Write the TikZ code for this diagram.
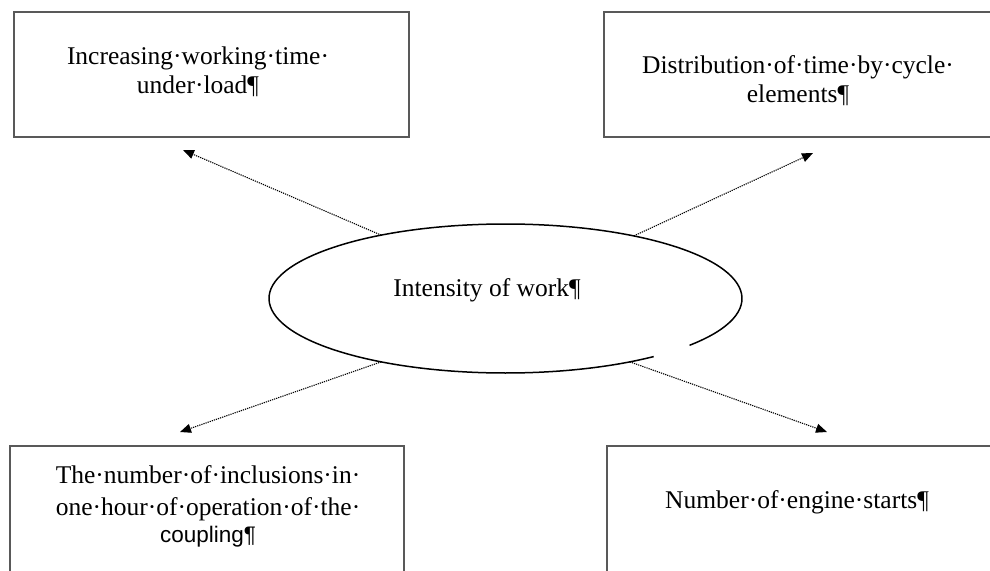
\documentclass[tikz,border=0pt]{standalone}
\usepackage{fontspec}
\setmainfont{Liberation Serif}
\newfontfamily\sansf{Liberation Sans}
\usetikzlibrary{arrows.meta,shapes.geometric}
\begin{document}
\begin{tikzpicture}[x=1pt,y=-1pt,
  box/.style={draw=black!65,line width=1.4pt,rectangle,inner sep=0pt,outer sep=0pt},
  txt/.style={inner sep=0pt,outer sep=0pt,align=center,anchor=base,
    font=\fontsize{25.5}{28.5}\selectfont},
  link/.style={line width=1.1pt,dash pattern=on 1.2pt off 1pt,
    -{Triangle[length=11pt,width=9pt]}}
]
\useasboundingbox (0,0) rectangle (990,570);
% boxes
\node[box,minimum width=395pt,minimum height=125pt] (b1) at (211.5,74.5) {};
\node[box,minimum width=396pt,minimum height=125pt] (b2) at (802,74.5) {};
\node[box,minimum width=394pt,minimum height=154pt] (b3) at (207,523) {};
\node[box,minimum width=396pt,minimum height=154pt] (b4) at (805,523) {};
% texts (base anchor = baseline of last line)
\node[txt] (t1) at (198,93) {Increasing·working·time·\\under·load¶};
\node[txt] (t2) at (798,102) {Distribution·of·time·by·cycle·\\elements¶};
\node[txt] (t3) at (208,542) {The·number·of·inclusions·in·\\[3.5pt]one·hour·of·operation·of·the·\\[-1.5pt]{\sansf\fontsize{22.5}{27}\selectfont coupling¶}};
\node[txt] (t4) at (797,508) {Number·of·engine·starts¶};
% ellipse
\node[ellipse,draw=none,minimum width=473pt,minimum height=149pt,inner sep=0pt,outer sep=0pt] (ell) at (505.5,298.5) {};
\draw[line width=1.5pt] (ell.center) ++(-38.9:236.5pt and 74.5pt)
  arc[start angle=-38.9,end angle=308.8,x radius=236.5pt,y radius=74.5pt];
\node[txt] (et) at (487,296) {Intensity of work¶};
% arrow tips
\coordinate (p1) at (183,150);
\coordinate (p2) at (813,153);
\coordinate (p3) at (180,432);
\coordinate (p4) at (827,432);
\draw[link] (ell.153.7) -- (p1);
\draw[link] (ell.26.8) -- (p2);
\draw[link] (ell.207) -- (p3);
\draw[link] (ell.333.5) -- (p4);
\end{tikzpicture}
\end{document}
